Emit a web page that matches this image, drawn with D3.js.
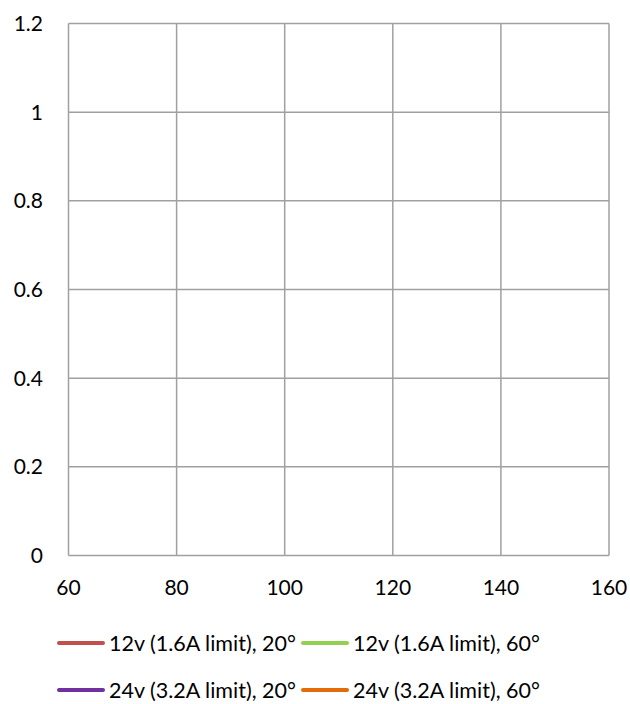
<!DOCTYPE html>
<html><head><meta charset="utf-8">
<script src="https://cdn.jsdelivr.net/npm/d3@7"></script>
<style>body{margin:0;background:#fff}svg{display:block}text{font-family:Lato,"Open Sans",sans-serif;fill:#000}</style>
</head><body>
<svg id="c" width="630" height="704"></svg>
<script>
const xTicks = [60, 80, 100, 120, 140, 160];
const yTicks = [0, 0.2, 0.4, 0.6, 0.8, 1, 1.2];
const seriesNames = ["12v (1.6A limit), 20°", "12v (1.6A limit), 60°", "24v (3.2A limit), 20°", "24v (3.2A limit), 60°"];
const seriesColors = ["#C0504D", "#92D050", "#7030A0", "#E36C09"];
const s12v20 = [];
const s12v60 = [];
const s24v20 = [];
const s24v60 = [];
const seriesValues = [s12v20, s12v60, s24v20, s24v60];

const svg = d3.select("#c");
const x = d3.scaleLinear().domain([60, 160]).range([68.5, 609]);
const y = d3.scaleLinear().domain([0, 1.2]).range([555.5, 23.5]);

const g = svg.append("g");
g.selectAll(".vg").data(xTicks).join("line")
  .attr("x1", d => x(d)).attr("x2", d => x(d)).attr("y1", y(0)).attr("y2", y(1.2))
  .attr("stroke", "#A0A0A0").attr("stroke-width", 1.5);
g.selectAll(".hg").data(yTicks).join("line")
  .attr("x1", x(60)).attr("x2", x(160)).attr("y1", d => y(d)).attr("y2", d => y(d))
  .attr("stroke", "#A0A0A0").attr("stroke-width", 1.5);

g.selectAll(".yl").data(yTicks).join("text")
  .attr("x", 43).attr("y", d => y(d)).attr("dy", "0.35em").attr("text-anchor", "end")
  .attr("font-size", 21).text(d => d);
g.selectAll(".xl").data(xTicks).join("text")
  .attr("x", d => x(d)).attr("y", 588).attr("dy", "0.35em").attr("text-anchor", "middle")
  .attr("font-size", 21).text(d => d);

const line = d3.line().x(d => x(d[0])).y(d => y(d[1]));
seriesValues.forEach((vals, i) => {
  if (vals.length) g.append("path").attr("d", line(vals)).attr("fill", "none")
    .attr("stroke", seriesColors[i]).attr("stroke-width", 3);
});

const legPos = [[57, 643], [301, 643], [57, 690], [301, 690]];
seriesNames.forEach((n, i) => {
  const [lx, ly] = legPos[i];
  svg.append("line").attr("x1", lx + 2).attr("x2", lx + 46).attr("y1", ly).attr("y2", ly)
    .attr("stroke", seriesColors[i]).attr("stroke-width", 4).attr("stroke-linecap", "round");
  svg.append("text").attr("x", lx + 52).attr("y", ly).attr("dy", "0.35em")
    .attr("font-size", 21.5).text(n);
});
</script>
</body></html>
